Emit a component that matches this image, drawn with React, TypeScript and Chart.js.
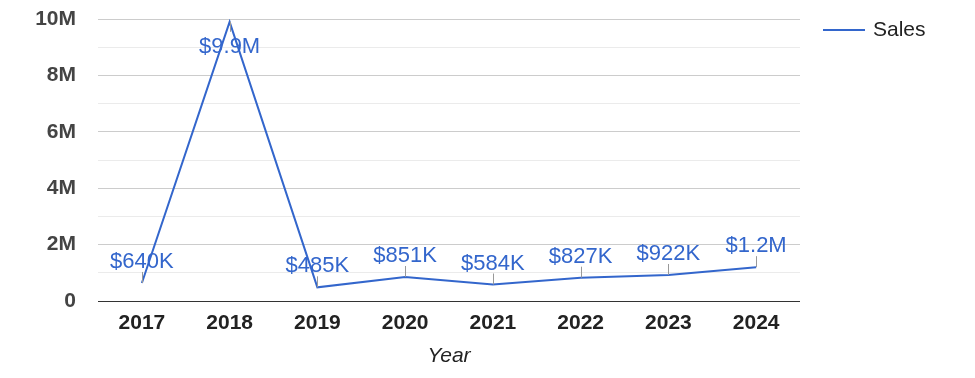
import React, { useEffect, useRef } from "react";
import { Chart, registerables } from "chart.js";

Chart.register(...registerables);

const categories = ["2017", "2018", "2019", "2020", "2021", "2022", "2023", "2024"];
const salesValues = [640000, 9900000, 485000, 851000, 584000, 827000, 922000, 1200000];
const seriesName = "Sales";
const xTitle = "Year";
const yMax = 10000000;
const yStep = 1000000;

const FONT = "'Liberation Sans', Arial, sans-serif";
const LINE_COLOR = "#3366cc";

function formatMoney(v: number): string {
  if (v >= 1000000) return "$" + (v / 1000000).toFixed(1) + "M";
  return "$" + Math.round(v / 1000) + "K";
}

function formatTick(v: number): string {
  if (v % (2 * yStep) !== 0) return "";
  if (v === 0) return "0";
  return v / 1000000 + "M";
}

const annotationPlugin = {
  id: "annotations",
  afterDatasetsDraw(chart: any) {
    const ctx = chart.ctx;
    const meta = chart.getDatasetMeta(0);
    ctx.save();
    ctx.font = `22px ${FONT}`;
    ctx.textAlign = "center";
    ctx.textBaseline = "alphabetic";
    meta.data.forEach((pt: any, i: number) => {
      const x = pt.x;
      const y = pt.y;
      const text = formatMoney(salesValues[i]);
      const above = y - 40 > 0;
      ctx.strokeStyle = "#999999";
      ctx.lineWidth = 1;
      ctx.beginPath();
      if (above) {
        ctx.moveTo(Math.round(x) + 0.5, y);
        ctx.lineTo(Math.round(x) + 0.5, y - 11);
      } else {
        ctx.moveTo(Math.round(x) + 0.5, y);
        ctx.lineTo(Math.round(x) + 0.5, y + 10);
      }
      ctx.stroke();
      ctx.fillStyle = LINE_COLOR;
      if (above) ctx.fillText(text, x, y - 15);
      else ctx.fillText(text, x, y + 31);
    });
    // legend
    ctx.strokeStyle = LINE_COLOR;
    ctx.lineWidth = 2;
    ctx.beginPath();
    ctx.moveTo(823, 30);
    ctx.lineTo(865, 30);
    ctx.stroke();
    ctx.fillStyle = "#222222";
    ctx.textAlign = "left";
    ctx.textBaseline = "middle";
    ctx.font = `21px ${FONT}`;
    ctx.fillText(seriesName, 873, 30);
    ctx.restore();
  },
};

export default function App() {
  const ref = useRef<HTMLCanvasElement | null>(null);
  useEffect(() => {
    if (!ref.current) return;
    const chart = new Chart(ref.current, {
      type: "line",
      data: {
        labels: categories,
        datasets: [
          {
            label: seriesName,
            data: salesValues,
            borderColor: LINE_COLOR,
            backgroundColor: LINE_COLOR,
            borderWidth: 2,
            pointRadius: 0,
            tension: 0,
          },
        ],
      },
      options: {
        responsive: false,
        animation: false,
        devicePixelRatio: 1,
        layout: { padding: { top: 19, right: 175, left: 0, bottom: 0 } },
        plugins: {
          legend: { display: false },
          tooltip: { enabled: false },
        },
        scales: {
          x: {
            type: "category",
            offset: true,
            grid: { display: false, drawTicks: false },
            border: { display: false },
            ticks: {
              color: "#222222",
              font: { family: FONT, size: 21, weight: "bold" },
              padding: 10,
              autoSkip: false,
              maxRotation: 0,
            },
            title: {
              display: true,
              text: xTitle,
              color: "#222222",
              font: { family: FONT, size: 21, style: "italic" },
              padding: { top: 0, bottom: 9 },
            },
            afterFit(scale: any) {
              scale.height = 77;
              scale.paddingLeft = 0;
              scale.paddingRight = 0;
            },
          },
          y: {
            min: 0,
            max: yMax,
            grid: {
              drawTicks: false,
              color: (c: any) =>
                c.tick.value === 0 ? "#333333" : c.tick.value % (2 * yStep) === 0 ? "#cccccc" : "#ebebeb",
              lineWidth: 1,
            },
            border: { display: false },
            ticks: {
              stepSize: yStep,
              autoSkip: false,
              color: "#444444",
              font: { family: FONT, size: 21, weight: "bold" },
              padding: 22,
              callback: (v: any) => formatTick(Number(v)),
            },
            afterFit(scale: any) {
              scale.width = 98;
              scale.paddingTop = 0;
              scale.paddingBottom = 0;
            },
          },
        },
      },
      plugins: [annotationPlugin],
    } as any);
    return () => chart.destroy();
  }, []);
  return (
    <div style={{ position: "absolute", left: 0, top: 0, width: 975, height: 378, background: "#fff" }}>
      <canvas ref={ref} width={975} height={378} style={{ width: 975, height: 378, display: "block" }} />
    </div>
  );
}
